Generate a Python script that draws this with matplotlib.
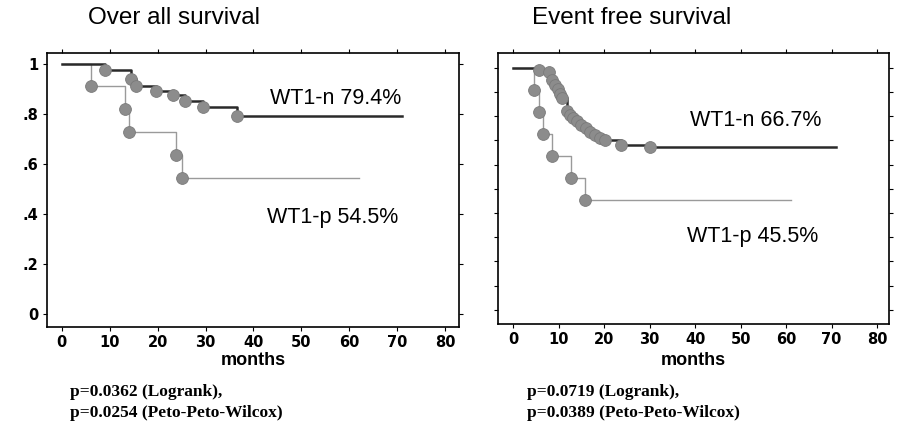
import matplotlib
matplotlib.use("Agg")
import matplotlib.pyplot as plt

# Over all survival
os_n_months = [9, 14.5, 15.5, 19.7, 23.2, 25.8, 29.4, 36.6]
os_n_surv = [0.975, 0.94, 0.91, 0.89, 0.875, 0.85, 0.825, 0.79]
os_n_end = 71
os_p_months = [6, 13.2, 14, 23.8, 25]
os_p_surv = [0.909, 0.818, 0.727, 0.636, 0.545]
os_p_end = 62

# Event free survival
efs_n_months = [5.8, 7.8, 8.5, 9.2, 9.8, 10.3, 10.7, 11.8, 12.5, 13.2, 14, 15, 16, 17,
                18, 19, 20.3, 23.7, 30]
efs_n_surv = [0.99, 0.98, 0.95, 0.93, 0.91, 0.89, 0.875, 0.82, 0.805, 0.79, 0.78, 0.765,
              0.75, 0.735, 0.72, 0.71, 0.70, 0.68, 0.673]
efs_n_end = 71
efs_p_months = [4.7, 5.8, 6.5, 8.5, 12.7, 15.8]
efs_p_surv = [0.909, 0.818, 0.727, 0.636, 0.545, 0.455]
efs_p_end = 61

x_ticks = [0, 10, 20, 30, 40, 50, 60, 70, 80]
y_ticks = [0, 0.2, 0.4, 0.6, 0.8, 1]
y_tick_labels = ["0", ".2", ".4", ".6", ".8", "1"]

MARK = "#8c8c8c"
SANS = "Liberation Sans"


def km(ax, months, surv, end, color, lw, z):
    t = [0] + months + [end]
    s = [1] + surv + [surv[-1]]
    ax.step(t, s, where="post", color=color, lw=lw, zorder=z)
    ax.plot(months, surv, "o", ms=8.5, color=MARK, mec="#7a7a7a", mew=0.6, zorder=z + 1)


def style(ax, xlim, ylim, pad):
    ax.set_xlim(*xlim)
    ax.set_ylim(*ylim)
    ax.set_xticks(x_ticks)
    ax.tick_params(direction="out", length=3, width=0.8, top=True, right=True,
                   labelsize=10.5, pad=3)
    for lab in ax.get_xticklabels():
        lab.set_fontweight("bold")
    for sp in ax.spines.values():
        sp.set_linewidth(1.2)
    ax.set_xlabel("months", fontsize=13, fontweight="bold", family=SANS, labelpad=pad)


fig = plt.figure(figsize=(8.99, 4.41), dpi=100)
W, H = 899, 441
ax1 = fig.add_axes([47 / W, 1 - 327 / H, (459 - 47) / W, (327 - 53) / H])
ax2 = fig.add_axes([498 / W, 1 - 324 / H, (889 - 498) / W, (324 - 53) / H])

km(ax1, os_p_months, os_p_surv, os_p_end, "#9a9a9a", 1.0, 2)
km(ax1, os_n_months, os_n_surv, os_n_end, "#2a2a2a", 1.8, 4)
style(ax1, (-3.1, 82.9), (-0.05, 1.042), 1)
ax1.set_yticks(y_ticks)
ax1.set_yticklabels(y_tick_labels, fontweight="bold")
ax1.text(43.4, 0.862, "WT1-n 79.4%", fontsize=15.5, va="center", family=SANS)
ax1.text(42.8, 0.388, "WT1-p 54.5%", fontsize=15.5, va="center", family=SANS)

km(ax2, efs_p_months, efs_p_surv, efs_p_end, "#9a9a9a", 1.0, 2)
km(ax2, efs_n_months, efs_n_surv, efs_n_end, "#2a2a2a", 1.8, 4)
style(ax2, (-3.3, 82.6), (-0.058, 1.06), 3.5)
ax2.set_yticks([i / 10 for i in range(11)])
ax2.set_yticklabels([])
ax2.text(38.9, 0.78, "WT1-n 66.7%", fontsize=15.5, va="center", family=SANS)
ax2.text(38.3, 0.305, "WT1-p 45.5%", fontsize=15.5, va="center", family=SANS)

fig.text(88 / W, 1 - 18 / H, "Over all survival", fontsize=17.5, va="center", family=SANS)
fig.text(532 / W, 1 - 18 / H, "Event free survival", fontsize=17.5, va="center", family=SANS)

p_font = dict(fontsize=12.5, fontweight="bold", family="Liberation Serif", va="center")
fig.text(70 / W, 1 - 392 / H, "p=0.0362 (Logrank),", **p_font)
fig.text(70 / W, 1 - 413 / H, "p=0.0254 (Peto-Peto-Wilcox)", **p_font)
fig.text(527 / W, 1 - 392 / H, "p=0.0719 (Logrank),", **p_font)
fig.text(527 / W, 1 - 413 / H, "p=0.0389 (Peto-Peto-Wilcox)", **p_font)

fig.savefig("out.png", dpi=100)
